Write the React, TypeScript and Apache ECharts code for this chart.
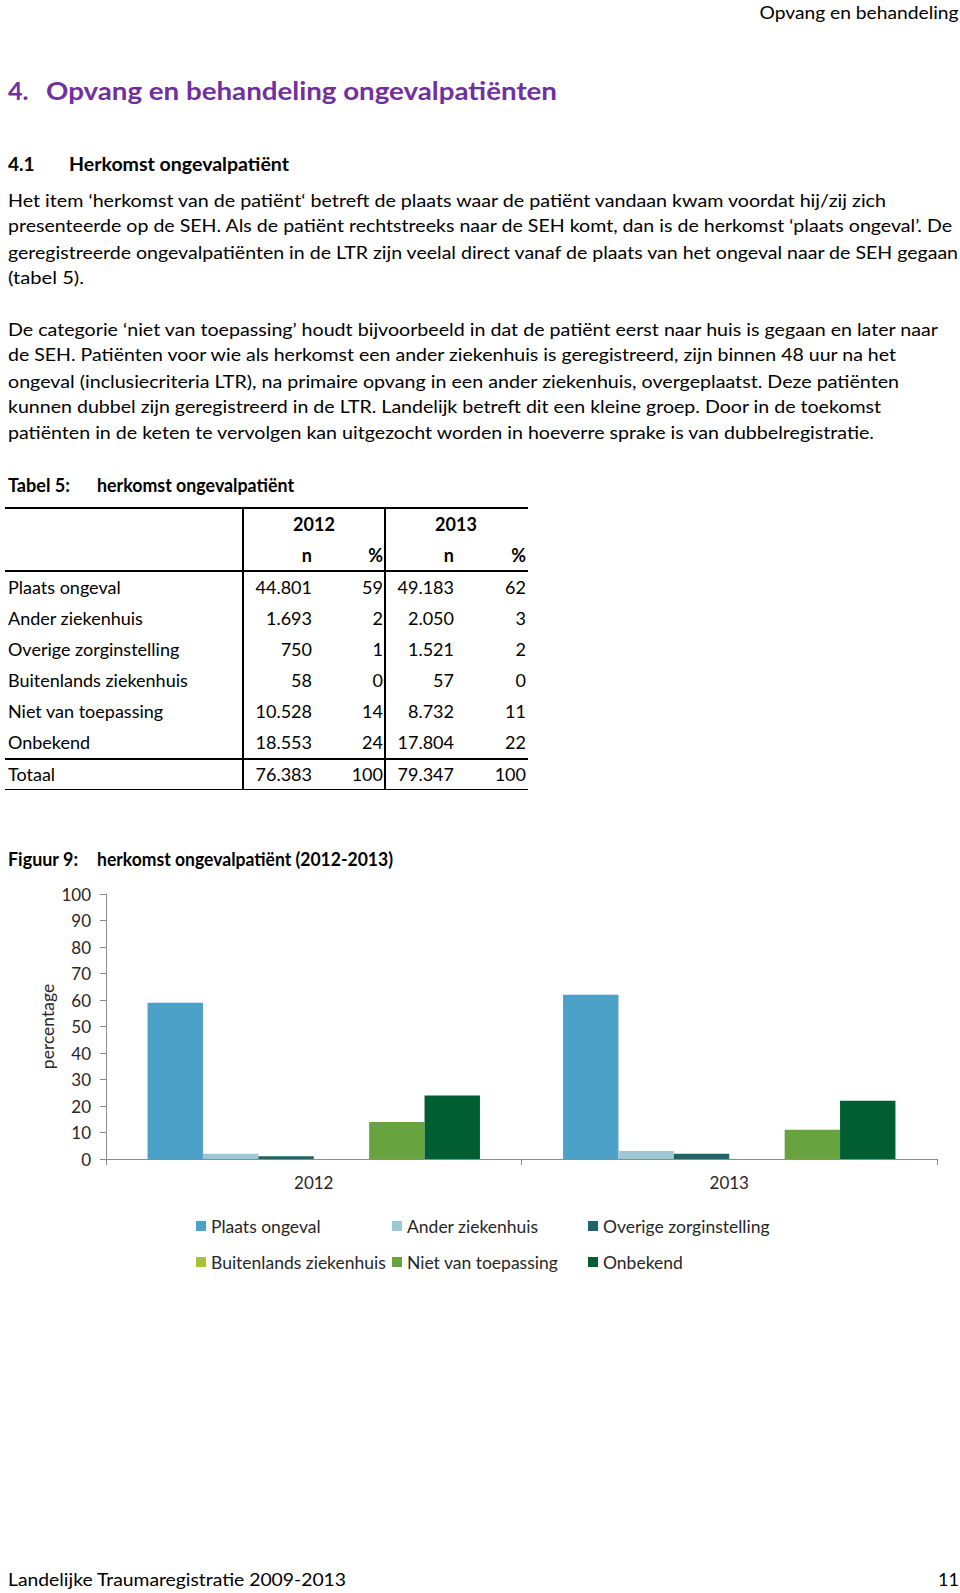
import React, { useEffect, useLayoutEffect, useRef } from "react";
import * as echarts from "echarts";

// ---------- data ----------
const categories = ["2012", "2013"];
const seriesNames = [
  "Plaats ongeval",
  "Ander ziekenhuis",
  "Overige zorginstelling",
  "Buitenlands ziekenhuis",
  "Niet van toepassing",
  "Onbekend",
];
const pct2012 = [59, 2, 1, 0, 14, 24];
const pct2013 = [62, 3, 2, 0, 11, 22];
const n2012 = ["44.801", "1.693", "750", "58", "10.528", "18.553"];
const n2013 = ["49.183", "2.050", "1.521", "57", "8.732", "17.804"];
const totalN2012 = "76.383";
const totalN2013 = "79.347";
const totalPct = "100";
const yMin = 0;
const yMax = 100;
const yInterval = 10;
const seriesColors = ["#4BA1C7", "#9DC8D3", "#20636A", "#A6C23A", "#67A33F", "#005E32"];

const para1 = [
  "Het item \u2018herkomst van de pati\u00EBnt\u2018 betreft de plaats waar de pati\u00EBnt vandaan kwam voordat hij/zij zich",
  "presenteerde op de SEH. Als de pati\u00EBnt rechtstreeks naar de SEH komt, dan is de herkomst \u2018plaats ongeval\u2019. De",
  "geregistreerde ongevalpati\u00EBnten in de LTR zijn veelal direct vanaf de plaats van het ongeval naar de SEH gegaan",
  "(tabel 5).",
];
const para1W = [878, 944, 950, 76];
const para1Y = [200, 225.5, 252, 277.5];
const para2 = [
  "De categorie \u2018niet van toepassing\u2019 houdt bijvoorbeeld in dat de pati\u00EBnt eerst naar huis is gegaan en later naar",
  "de SEH. Pati\u00EBnten voor wie als herkomst een ander ziekenhuis is geregistreerd, zijn binnen 48 uur na het",
  "ongeval (inclusiecriteria LTR), na primaire opvang in een ander ziekenhuis, overgeplaatst. Deze pati\u00EBnten",
  "kunnen dubbel zijn geregistreerd in de LTR. Landelijk betreft dit een kleine groep. Door in de toekomst",
  "pati\u00EBnten in de keten te vervolgen kan uitgezocht worden in hoeverre sprake is van dubbelregistratie.",
];
const para2W = [930, 888, 891, 873, 866];
const para2Y = [329, 354.5, 381, 406.5, 432];

const rowY = [587, 618.7, 649, 680.7, 711, 742.6];
const totalY = 774;

const FONT = "Lato, 'Open Sans', sans-serif";
const BODY = 18;

type FTProps = {
  x: number;
  cy: number;
  w?: number;
  size: number;
  bold?: boolean;
  color?: string;
  right?: boolean;
  center?: boolean;
  children: React.ReactNode;
};

function FitText({ x, cy, w, size, bold, color, right, center, children }: FTProps) {
  const ref = useRef<HTMLDivElement>(null);
  useLayoutEffect(() => {
    const el = ref.current;
    if (!el || !w) return;
    el.style.transform = "none";
    const nat = el.getBoundingClientRect().width;
    if (nat > 0) el.style.transform = `scaleX(${w / nat})`;
  }, [w]);
  const lh = Math.round(size * 1.3);
  const style: React.CSSProperties = {
    position: "absolute",
    top: cy - lh / 2,
    lineHeight: lh + "px",
    fontSize: size,
    fontWeight: bold ? 700 : 400,
    color: color || "#000",
    whiteSpace: "nowrap",
    transformOrigin: right ? "right center" : "left center",
  };
  if (right) style.right = 960 - x;
  else if (center) {
    style.left = x - 100;
    style.width = 200;
    style.textAlign = "center";
  } else style.left = x;
  return (
    <div ref={ref} style={style}>
      {children}
    </div>
  );
}

function HLine({ x1, x2, y }: { x1: number; x2: number; y: number }) {
  return (
    <div
      style={{ position: "absolute", left: x1, top: y - 0.75, width: x2 - x1, height: 1.5, background: "#000" }}
    />
  );
}
function VLine({ x, y1, y2 }: { x: number; y1: number; y2: number }) {
  return (
    <div
      style={{ position: "absolute", left: x - 0.75, top: y1, width: 1.5, height: y2 - y1, background: "#000" }}
    />
  );
}

function Chart() {
  const ref = useRef<HTMLDivElement>(null);
  useEffect(() => {
    if (!ref.current) return;
    const chart = echarts.init(ref.current, null, { renderer: "svg" });
    const textColor = "#262626";
    const axisColor = "#8C8C8C";
    const legendPos = [
      { left: 196, top: 346 },
      { left: 392, top: 346 },
      { left: 588, top: 346 },
      { left: 196, top: 382 },
      { left: 392, top: 382 },
      { left: 588, top: 382 },
    ];
    chart.setOption({
      animation: false,
      textStyle: { fontFamily: FONT },
      grid: { left: 106, right: 23, top: 24, height: 265 },
      legend: seriesNames.map((name, i) => ({
        data: [name],
        left: legendPos[i].left,
        top: legendPos[i].top,
        padding: 0,
        itemWidth: 10,
        itemHeight: 10,
        icon: "rect",
        itemGap: 0,
        textStyle: { fontFamily: FONT, fontSize: 17.5, color: textColor, lineHeight: 20 },
      })),
      xAxis: {
        type: "category",
        data: categories,
        axisLine: { lineStyle: { color: axisColor, width: 1 } },
        axisTick: { show: true, length: 6, lineStyle: { color: axisColor } },
        axisLabel: { margin: 15, fontSize: 17, color: textColor, fontFamily: FONT },
      },
      yAxis: {
        type: "value",
        min: yMin,
        max: yMax,
        interval: yInterval,
        name: "percentage",
        nameLocation: "middle",
        nameGap: 50,
        nameMoveOverlap: false,
        nameRotate: 90,
        nameTextStyle: { fontSize: 17.5, color: textColor, fontFamily: FONT },
        splitLine: { show: false },
        axisLine: { show: true, lineStyle: { color: axisColor, width: 1 } },
        axisTick: { show: true, length: 6, lineStyle: { color: axisColor } },
        axisLabel: { margin: 15, fontSize: 17, color: textColor, fontFamily: FONT },
      },
      series: seriesNames.map((name, i) => ({
        name,
        type: "bar",
        data: [pct2012[i], pct2013[i]],
        barGap: "0%",
        barCategoryGap: "20%",
        itemStyle: { color: seriesColors[i] },
      })),
    });
    return () => chart.dispose();
  }, []);
  return <div ref={ref} style={{ position: "absolute", left: 0, top: 870, width: 960, height: 420 }} />;
}

export default function App() {
  return (
    <div
      style={{
        position: "absolute",
        left: 0,
        top: 0,
        width: 960,
        height: 1593,
        background: "#fff",
        fontFamily: FONT,
        color: "#000",
        overflow: "hidden",
      }}
    >
      <FitText x={958} cy={12} size={BODY} right w={199}>
        Opvang en behandeling
      </FitText>

      <FitText x={8} cy={90} size={25} bold color="#7030A0">
        4.
      </FitText>
      <FitText x={46} cy={90} size={25} bold color="#7030A0" w={511}>
        Opvang en behandeling ongevalpatiënten
      </FitText>

      <FitText x={8} cy={163} size={19} bold>
        4.1
      </FitText>
      <FitText x={69} cy={163} size={19} bold w={220}>
        Herkomst ongevalpatiënt
      </FitText>

      {para1.map((t, i) => (
        <FitText key={"p1" + i} x={8} cy={para1Y[i]} size={BODY} w={para1W[i]}>
          {t}
        </FitText>
      ))}
      {para2.map((t, i) => (
        <FitText key={"p2" + i} x={8} cy={para2Y[i]} size={BODY} w={para2W[i]}>
          {t}
        </FitText>
      ))}

      <FitText x={8} cy={485} size={BODY} bold w={62}>
        Tabel 5:
      </FitText>
      <FitText x={97} cy={485} size={BODY} bold w={197}>
        herkomst ongevalpatiënt
      </FitText>

      {/* table */}
      <HLine x1={5} x2={528} y={508} />
      <HLine x1={5} x2={528} y={571} />
      <HLine x1={5} x2={528} y={759} />
      <HLine x1={5} x2={528} y={789.5} />
      <VLine x={243} y1={508} y2={789.5} />
      <VLine x={385} y1={508} y2={789.5} />

      <FitText x={314} cy={524} size={BODY} bold center>
        {categories[0]}
      </FitText>
      <FitText x={456} cy={524} size={BODY} bold center>
        {categories[1]}
      </FitText>
      <FitText x={312} cy={555} size={BODY} bold right>
        n
      </FitText>
      <FitText x={383} cy={555} size={BODY} bold right>
        %
      </FitText>
      <FitText x={454} cy={555} size={BODY} bold right>
        n
      </FitText>
      <FitText x={526} cy={555} size={BODY} bold right>
        %
      </FitText>

      {seriesNames.map((name, i) => (
        <React.Fragment key={"row" + i}>
          <FitText x={8} cy={rowY[i]} size={BODY}>
            {name}
          </FitText>
          <FitText x={312} cy={rowY[i]} size={BODY} right>
            {n2012[i]}
          </FitText>
          <FitText x={383} cy={rowY[i]} size={BODY} right>
            {String(pct2012[i])}
          </FitText>
          <FitText x={454} cy={rowY[i]} size={BODY} right>
            {n2013[i]}
          </FitText>
          <FitText x={526} cy={rowY[i]} size={BODY} right>
            {String(pct2013[i])}
          </FitText>
        </React.Fragment>
      ))}
      <FitText x={8} cy={totalY} size={BODY}>
        Totaal
      </FitText>
      <FitText x={312} cy={totalY} size={BODY} right>
        {totalN2012}
      </FitText>
      <FitText x={383} cy={totalY} size={BODY} right>
        {totalPct}
      </FitText>
      <FitText x={454} cy={totalY} size={BODY} right>
        {totalN2013}
      </FitText>
      <FitText x={526} cy={totalY} size={BODY} right>
        {totalPct}
      </FitText>

      <FitText x={8} cy={859} size={BODY} bold w={70}>
        Figuur 9:
      </FitText>
      <FitText x={97} cy={859} size={BODY} bold w={296}>
        herkomst ongevalpatiënt (2012-2013)
      </FitText>

      <Chart />

      <FitText x={8} cy={1579} size={BODY} w={338}>
        Landelijke Traumaregistratie 2009-2013
      </FitText>
      <FitText x={959} cy={1579} size={BODY} right>
        11
      </FitText>
    </div>
  );
}
